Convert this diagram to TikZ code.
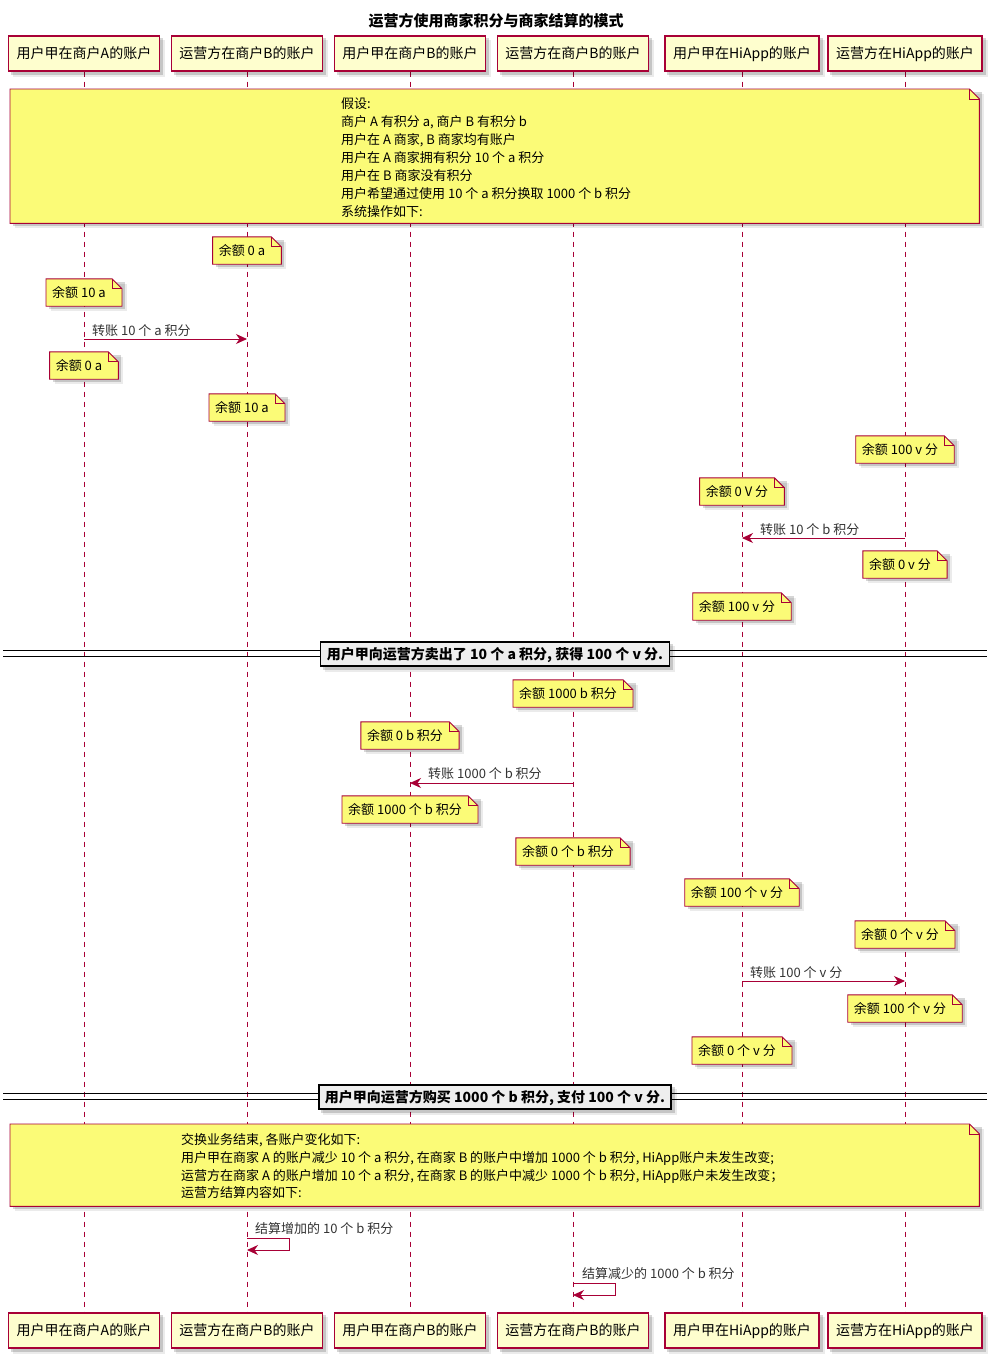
\documentclass[tikz,border=0pt]{standalone}
\usepackage{fontspec}
\setmainfont{Noto Sans CJK SC}
\usetikzlibrary{calc,arrows.meta}
\definecolor{pborder}{HTML}{A80036}
\definecolor{pfill}{HTML}{FEFECE}
\definecolor{nfill}{HTML}{FBFB77}
\definecolor{dfill}{HTML}{EEEEEE}
\pgfdeclarelayer{paper}
\pgfdeclarelayer{lines}
\pgfdeclarelayer{shapes}
\pgfsetlayers{paper,lines,shapes,main}
\tikzset{
  partbox/.style={draw=pborder, fill=pfill, line width=1.2pt, minimum height=35pt, inner xsep=8pt, inner ysep=0pt, font=\fontsize{14}{16}\selectfont, text height=12.5pt, text depth=2pt},
  notetext/.style={inner sep=0pt, minimum height=27pt, font=\fontsize{13}{15}\selectfont, text height=12pt, text depth=2pt},
  bignote/.style={inner sep=0pt, anchor=north west},
  noteshape/.style={draw=pborder, fill=nfill, line width=0.9pt},
  shadowA/.style={fill=black, opacity=0.16},
  shadowB/.style={fill=black, opacity=0.08},
  lifeline/.style={draw=pborder, line width=0.8pt, dash pattern=on 5pt off 5pt},
  msg/.style={draw=pborder, line width=0.9pt, -{Stealth[length=11pt,width=10pt,inset=3.5pt]}},
  msglabel/.style={anchor=base west, inner sep=0pt, font=\fontsize{13}{15}\selectfont, text=black!80},
  bigline/.style={anchor=west, inner sep=0pt, font=\fontsize{13}{15}\selectfont, text height=12pt, text depth=2pt},
  divtext/.style={draw=black, fill=dfill, line width=1.2pt, inner xsep=6pt, minimum height=24pt, inner ysep=0pt, font=\bfseries\fontsize{14}{16}\selectfont, text height=12pt, text depth=2pt},
  divline/.style={draw=black, line width=0.9pt},
  titletext/.style={font=\bfseries\fontsize{15}{17}\selectfont, inner sep=0pt},
}
\newcommand\noteframe[1]{%
  \begin{pgfonlayer}{shapes}
    \fill[shadowB] ($(#1.north west)+(5,5)$) rectangle ($(#1.south east)+(5,5)$);
    \fill[shadowA] ($(#1.north west)+(3,3)$) rectangle ($(#1.south east)+(3,3)$);
    \filldraw[noteshape] (#1.south west) -- (#1.north west) -- ($(#1.north east)+(-10,0)$) -- ($(#1.north east)+(0,10)$) -- (#1.south east) -- cycle;
    \draw[noteshape, fill=none] ($(#1.north east)+(-10,0)$) -- ($(#1.north east)+(-10,10)$) -- ($(#1.north east)+(0,10)$);
  \end{pgfonlayer}}
\newcommand\mknote[4]{%
  \node[notetext] (#1) at (#2,#3) {\hspace*{6pt}#4\hspace*{16pt}};
  \noteframe{#1}}
\newcommand\boxshadow[1]{%
  \begin{pgfonlayer}{shapes}
    \fill[shadowB] ($(#1.north west)+(5,5)$) rectangle ($(#1.south east)+(5,5)$);
    \fill[shadowA] ($(#1.north west)+(3,3)$) rectangle ($(#1.south east)+(3,3)$);
  \end{pgfonlayer}}
\newcommand\mkpart[4]{%
  \node[partbox] (#1) at (#2,#3) {#4};
  \boxshadow{#1}}
\begin{document}
\begin{tikzpicture}[x=1pt,y=-1pt]
\begin{pgfonlayer}{paper}
\fill[white] (0,0) rectangle (998,1355);
\end{pgfonlayer}
\useasboundingbox (0,0) rectangle (998,1355);
\node[titletext] (title) at (496,21) {运营方使用商家积分与商家结算的模式};
% participants
\mkpart{tA}{84}{53.5}{用户甲在商户A的账户}
\mkpart{tB}{247}{53.5}{运营方在商户B的账户}
\mkpart{tC}{410}{53.5}{用户甲在商户B的账户}
\mkpart{tD}{573}{53.5}{运营方在商户B的账户}
\mkpart{tE}{742}{53.5}{用户甲在HiApp的账户}
\mkpart{tF}{905}{53.5}{运营方在HiApp的账户}
\mkpart{bA}{84}{1330.5}{用户甲在商户A的账户}
\mkpart{bB}{247}{1330.5}{运营方在商户B的账户}
\mkpart{bC}{410}{1330.5}{用户甲在商户B的账户}
\mkpart{bD}{573}{1330.5}{运营方在商户B的账户}
\mkpart{bE}{742}{1330.5}{用户甲在HiApp的账户}
\mkpart{bF}{905}{1330.5}{运营方在HiApp的账户}
\begin{pgfonlayer}{lines}
  \foreach \p in {A,B,C,D,E,F} {\draw[lifeline] (t\p.south) -- (b\p.north);}
\end{pgfonlayer}
% big note 1
\node[bignote, minimum width=969pt, minimum height=134pt] (big1) at (10,89) {};
\noteframe{big1}
\node[bigline] (l11) at (341,103) {假设:};
\node[bigline] (l12) at (341,121) {商户 A 有积分 a, 商户 B 有积分 b};
\node[bigline] (l13) at (341,139) {用户在 A 商家, B 商家均有账户};
\node[bigline] (l14) at (341,157) {用户在 A 商家拥有积分 10 个 a 积分};
\node[bigline] (l15) at (341,175) {用户在 B 商家没有积分};
\node[bigline] (l16) at (341,193) {用户希望通过使用 10 个 a 积分换取 1000 个 b 积分};
\node[bigline] (l17) at (341,211) {系统操作如下:};
% phase 1
\mknote{n1}{247}{250.5}{余额 0 a}
\mknote{n2}{84}{292.5}{余额 10 a}
\coordinate (m1a) at (84,339); \coordinate (m1b) at (247,339);
\draw[msg] (m1a) -- (m1b);
\node[msglabel] (ml1) at (92,335) {转账 10 个 a 积分};
\mknote{n3}{84}{365.5}{余额 0 a}
\mknote{n4}{247}{407.5}{余额 10 a}
\mknote{n5}{905}{449.5}{余额 100 v 分}
\mknote{n6}{742}{491.5}{余额 0 V 分}
\coordinate (m2a) at (905,538); \coordinate (m2b) at (742,538);
\draw[msg] (m2a) -- (m2b);
\node[msglabel] (ml2) at (760,534) {转账 10 个 b 积分};
\mknote{n7}{905}{564.5}{余额 0 v 分}
\mknote{n8}{742}{606.5}{余额 100 v 分}
% divider 1
\begin{pgfonlayer}{shapes}
  \draw[divline] (3,650.5) -- (987,650.5);
  \draw[divline] (3,656) -- (987,656);
\end{pgfonlayer}
\node[divtext] (d1) at (495,654) {用户甲向运营方卖出了 10 个 a 积分, 获得 100 个 v 分.};
\boxshadow{d1}
% phase 2
\mknote{n9}{573}{693.5}{余额 1000 b 积分}
\mknote{n10}{410}{735.5}{余额 0 b 积分}
\coordinate (m3a) at (573,783); \coordinate (m3b) at (410,783);
\draw[msg] (m3a) -- (m3b);
\node[msglabel] (ml3) at (428,778) {转账 1000 个 b 积分};
\mknote{n11}{410}{809.5}{余额 1000 个 b 积分}
\mknote{n12}{573}{851.5}{余额 0 个 b 积分}
\mknote{n13}{742}{892.5}{余额 100 个 v 分}
\mknote{n14}{905}{934.5}{余额 0 个 v 分}
\coordinate (m4a) at (742,981); \coordinate (m4b) at (905,981);
\draw[msg] (m4a) -- (m4b);
\node[msglabel] (ml4) at (750,977) {转账 100 个 v 分};
\mknote{n15}{905}{1008.5}{余额 100 个 v 分}
\mknote{n16}{742}{1050.5}{余额 0 个 v 分}
% divider 2
\begin{pgfonlayer}{shapes}
  \draw[divline] (3,1093.5) -- (987,1093.5);
  \draw[divline] (3,1099) -- (987,1099);
\end{pgfonlayer}
\node[divtext] (d2) at (495,1097) {用户甲向运营方购买 1000 个 b 积分, 支付 100 个 v 分.};
\boxshadow{d2}
% big note 2
\node[bignote, minimum width=969pt, minimum height=82pt] (big2) at (10,1124) {};
\noteframe{big2}
\node[bigline] (l21) at (181,1139) {交换业务结束, 各账户变化如下:};
\node[bigline] (l22) at (181,1157) {用户甲在商家 A 的账户减少 10 个 a 积分, 在商家 B 的账户中增加 1000 个 b 积分, HiApp账户未发生改变;};
\node[bigline] (l23) at (181,1175) {运营方在商家 A 的账户增加 10 个 a 积分, 在商家 B 的账户中减少 1000 个 b 积分, HiApp账户未发生改变；};
\node[bigline] (l24) at (181,1192) {运营方结算内容如下:};
% self messages
\coordinate (s1a) at (247,1238); \coordinate (s1b) at (247,1250);
\draw[msg] (s1a) -- ++(42,0) -- ++(0,12) -- (s1b);
\node[msglabel] (sl1) at (255,1233) {结算增加的 10 个 b 积分};
\coordinate (s2a) at (573,1283); \coordinate (s2b) at (573,1295);
\draw[msg] (s2a) -- ++(42,0) -- ++(0,12) -- (s2b);
\node[msglabel] (sl2) at (582,1278) {结算减少的 1000 个 b 积分};
\end{tikzpicture}
\end{document}
